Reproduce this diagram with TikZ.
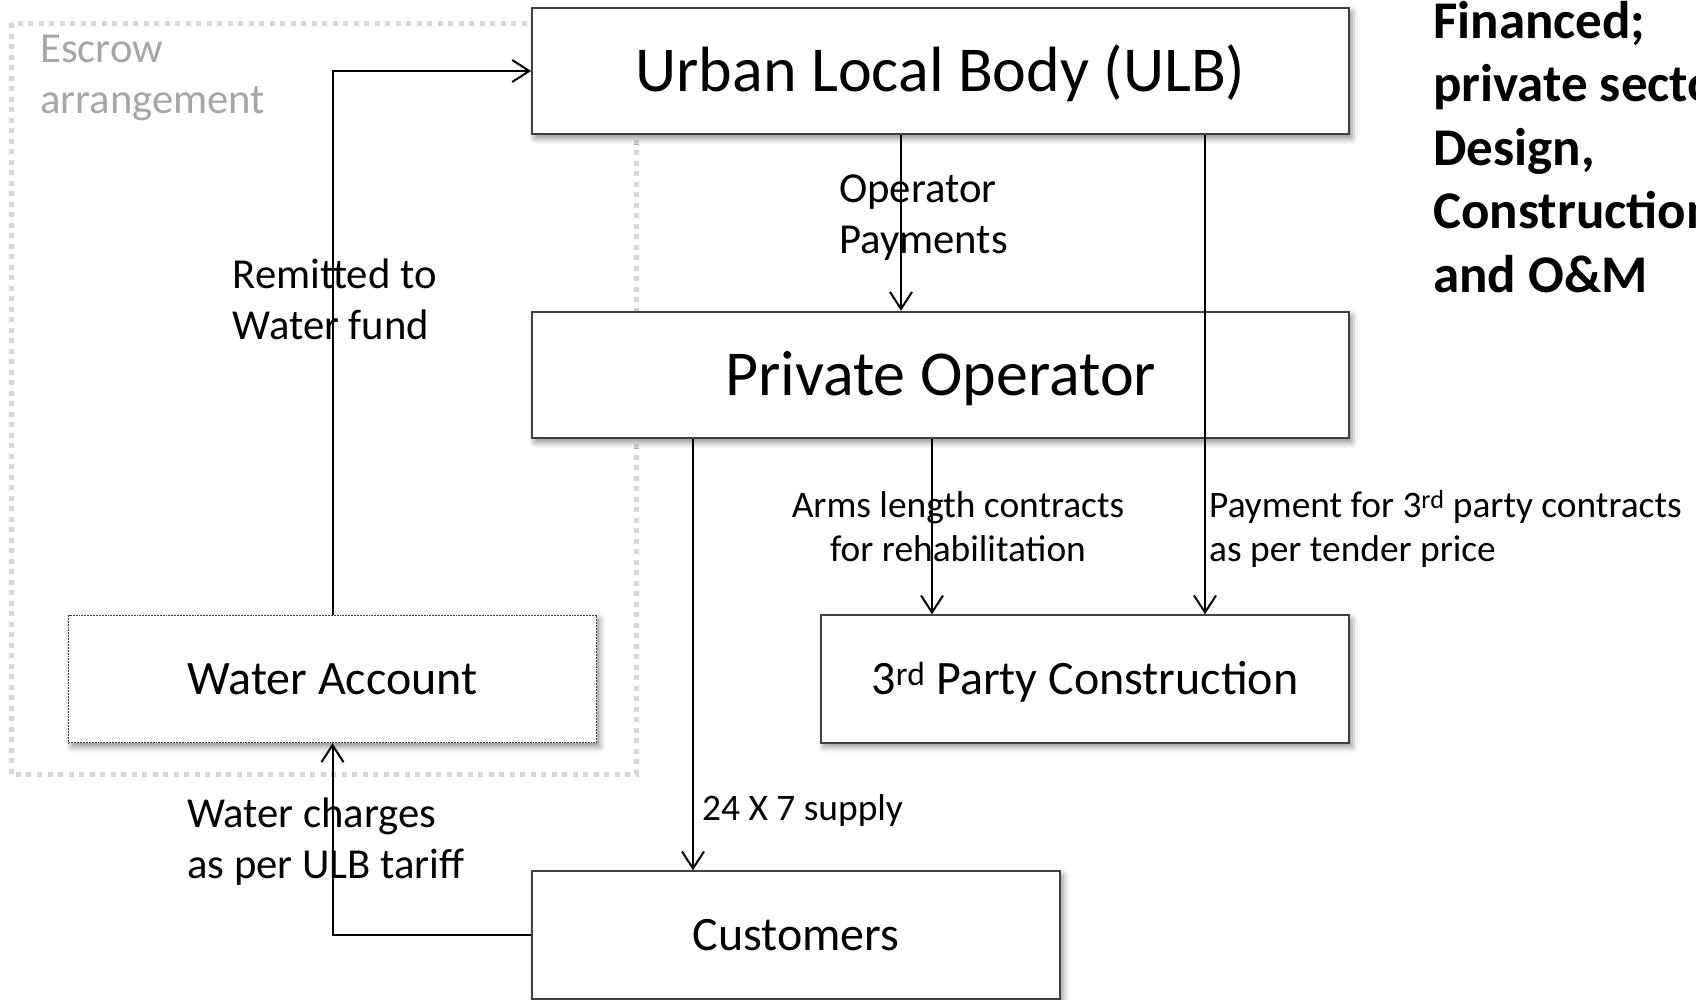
\documentclass[tikz,border=0pt]{standalone}
\usepackage{fontspec}
\setmainfont{Carlito}
\usetikzlibrary{arrows.meta,shadows.blur}
\definecolor{boxline}{HTML}{404040}
\definecolor{escrowgray}{HTML}{D6D6D6}
\definecolor{escrowtext}{HTML}{A6A6A6}
\tikzset{
  box/.style={draw=boxline, line width=1.9pt, fill=white, inner sep=0pt,
    blur shadow={shadow xshift=3pt, shadow yshift=-4pt, shadow blur radius=6pt, shadow opacity=45}},
  bigbox/.style={box, minimum width=817pt, minimum height=126.5pt, text height=41.2pt, text depth=0pt, font=\fontsize{64}{77}\selectfont},
  smallbox/.style={box, minimum width=528pt, minimum height=127.5pt, text height=30.9pt, text depth=0pt, font=\fontsize{48}{58}\selectfont},
  dotbox/.style={smallbox, draw=boxline, densely dotted, line width=1pt},
  lab/.style={inner sep=0pt, align=left, font=\fontsize{42.7}{51}\selectfont},
  slab/.style={inner sep=0pt, align=left, font=\fontsize{37.4}{44}\selectfont},
  arr/.style={draw=black, line width=2pt, -{Straight Barb[length=17pt,width=22pt,line width=2pt]}},
  escrow/.style={draw=escrowgray, line width=5pt, dash pattern=on 5pt off 5.5pt},
}
\begin{document}
\begin{tikzpicture}[x=1pt,y=-1pt]
\useasboundingbox (0,0) rectangle (1696,999);
\clip (0,0) rectangle (1696,999);
% escrow arrangement
\draw[escrow] (11,23) rectangle (636,774);
\node[lab, anchor=west, text=escrowtext] (esc) at (40,78) {Escrow\\arrangement};
% boxes
\node[bigbox] (ulb) at (940.5,71) {Urban Local Body (ULB)};
\node[bigbox] (po) at (940.5,375) {Private Operator};
\node[dotbox] (wa) at (332.5,679) {Water Account};
\node[smallbox] (tp) at (1085,679) {3\textsuperscript{rd} Party Construction};
\node[smallbox] (cust) at (796,935) {Customers};
% x positions of vertical connectors
\coordinate (xa) at (901,0);
\coordinate (xb) at (1205,0);
\coordinate (xc) at (932,0);
\coordinate (xd) at (693,0);
% connectors
\draw[arr] (ulb.south -| xa) -- (po.north -| xa);
\draw[arr] (ulb.south -| xb) -- (tp.north -| xb);
\draw[arr] (po.south -| xc) -- (tp.north -| xc);
\draw[arr] (po.south -| xd) -- (cust.north -| xd);
\draw[arr] (cust.west) -| (wa.south);
\draw[arr] (wa.north) |- (ulb.west);
% labels
\node[lab, anchor=west] (l1) at (839,217.5) {Operator\\Payments};
\node[lab, anchor=west] (l2) at (232.5,299) {Remitted to\\Water fund};
\node[slab, align=center] (l3) at (958,527) {Arms length contracts\\for rehabilitation};
\node[slab, anchor=west] (l4) at (1209,528.5) {Payment for 3\textsuperscript{rd} party contracts\\as per tender price};
\node[slab, anchor=west] (l5) at (702,811) {24 X 7 supply};
\node[lab, anchor=west] (l6) at (187,841.5) {Water charges\\as per ULB tariff};
\node[inner sep=0pt, align=left, anchor=west, font=\bfseries\fontsize{53}{63.5}\selectfont] (side) at (1433,147)
  {Financed;\\private sector\\Design,\\Construction\\and O\&M};
\end{tikzpicture}
\end{document}
